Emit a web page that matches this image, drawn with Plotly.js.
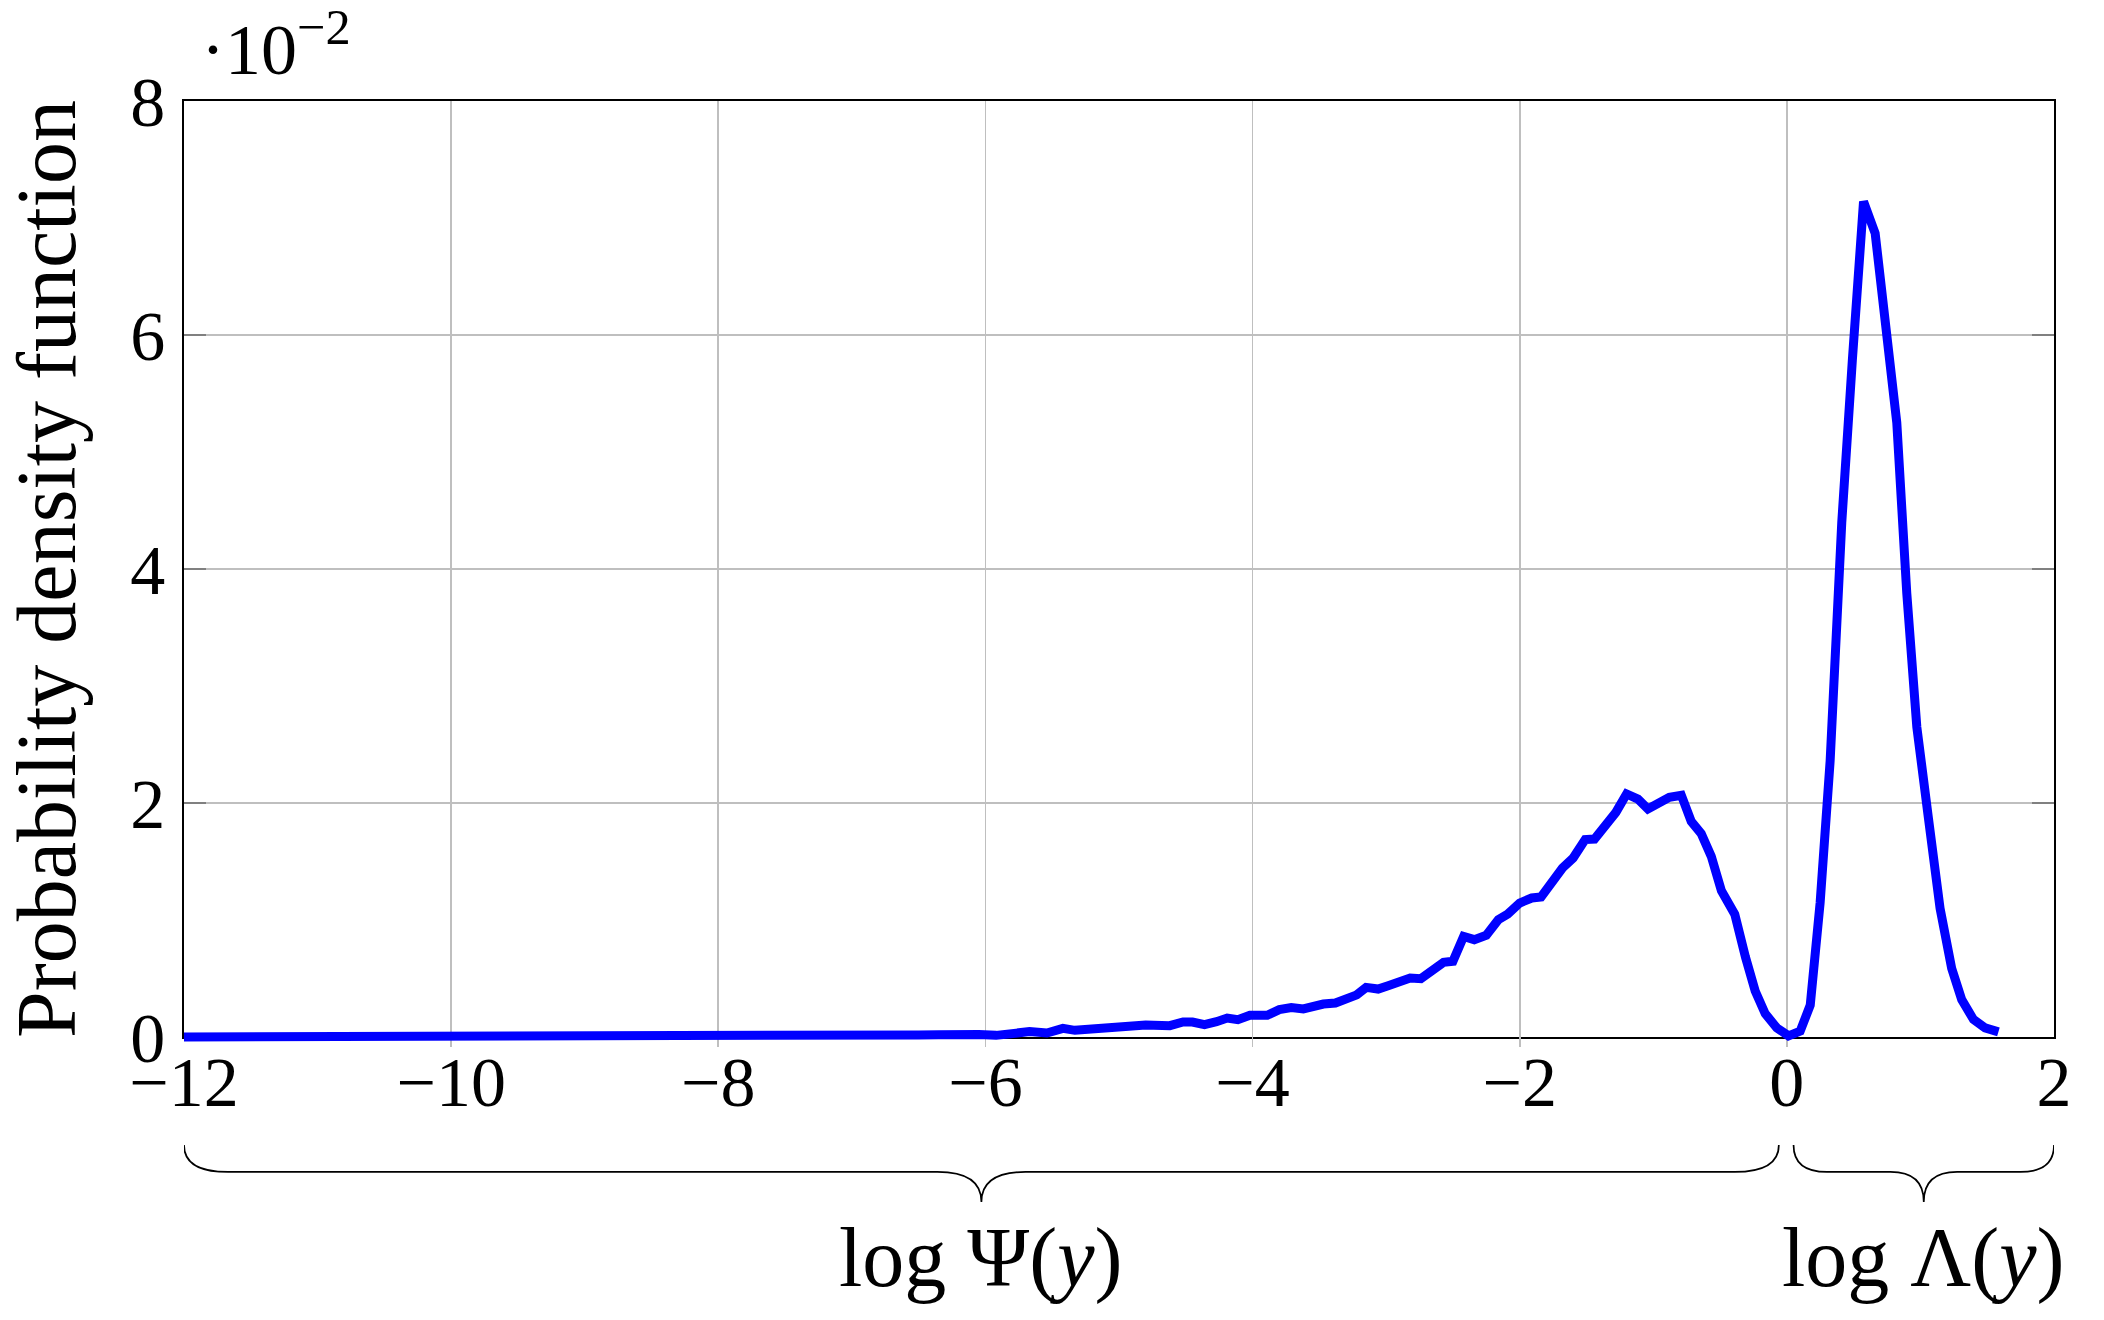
<!DOCTYPE html>
<html>
<head>
<meta charset="utf-8">
<script src="https://cdn.plot.ly/plotly-3.0.1.min.js"></script>
<style>
  html, body { margin: 0; padding: 0; background: #ffffff; }
  #chart { width: 2104px; height: 1320px; }
</style>
</head>
<body>
<div id="chart"></div>
<script>
// log-value on the x axis (log Psi(y) for the negative part, log Lambda(y) for the positive part)
const logValue = [
  -12, -11.5, -11, -10.5, -10, -9.5, -9, -8.5, -8.2, -7.9, -7.6, -7.3, -7.0, -6.8,
  -6.64, -6.5, -6.35, -6.17, -6.05, -5.92, -5.82, -5.67, -5.54, -5.42, -5.33, -5.25,
  -5.10, -5.00, -4.92, -4.80, -4.62, -4.52, -4.45, -4.36, -4.27, -4.19, -4.11, -4.02,
  -3.96, -3.89, -3.80, -3.71, -3.62, -3.55, -3.47, -3.38, -3.31, -3.22, -3.15, -3.06,
  -2.985, -2.90, -2.82, -2.74, -2.66, -2.57, -2.50, -2.42, -2.34, -2.25, -2.16, -2.09,
  -2.00, -1.91, -1.84, -1.76, -1.68, -1.60, -1.51, -1.44, -1.36, -1.28, -1.20, -1.115,
  -1.04, -0.95, -0.88, -0.79, -0.716, -0.641, -0.566, -0.49, -0.39, -0.31, -0.237, -0.162,
  -0.075, 0.012, 0.10, 0.175, 0.249, 0.324, 0.411, 0.49, 0.574, 0.661, 0.736, 0.823,
  0.898, 0.973, 1.06, 1.147, 1.234, 1.309, 1.397, 1.484, 1.584
];

// probability density, in units of 10^-2
const pdf = [
  0, 0, 0, 0, 0, 0.002, 0.002, 0.003, 0.008, 0.006, 0.007, 0.010, 0.012, 0.015,
  0.017, 0.018, 0.020, 0.031, 0.022, 0.014, 0.034, 0.046, 0.034, 0.074, 0.057, 0.063,
  0.066, 0.085, 0.088, 0.103, 0.097, 0.128, 0.128, 0.105, 0.131, 0.162, 0.148, 0.185,
  0.185, 0.185, 0.234, 0.251, 0.240, 0.262, 0.282, 0.291, 0.330, 0.360, 0.424, 0.410,
  0.439, 0.481, 0.504, 0.499, 0.575, 0.638, 0.647, 0.860, 0.832, 0.869, 1.003, 1.051,
  1.145, 1.188, 1.197, 1.330, 1.444, 1.530, 1.687, 1.692, 1.815, 1.920, 2.077, 2.034,
  1.949, 2.006, 2.048, 2.066, 1.843, 1.738, 1.544, 1.250, 1.049, 0.684, 0.393, 0.199,
  0.078, 0.010, 0.050, 0.272, 1.146, 2.359, 4.398, 5.780, 7.140, 6.870, 6.150, 5.250,
  3.790, 2.650, 1.870, 1.100, 0.587, 0.320, 0.150, 0.078, 0.044
];

// the two parts under the braces
const partLabels = ['log Ψ(<i>y</i>)', 'log Λ(<i>y</i>)'];
const partStart = [-12, 0.05];
const partEnd = [-0.06, 2];

const serif = 'Liberation Serif, Times New Roman, serif';

// the framed axes sit 10px above the bottom of the plot area, so the thick
// curve is not cut in half where it runs along the zero line
const padPx = 10;
const areaPx = 1320 - 101 - 273;
const yLow = padPx / areaPx;
const yPad = 8 * padPx / (areaPx - padPx);

// brace below the plot, x in data units, y in paper units
function bracePath(x0, x1, w) {
  const yEnd = -0.1036, yLine = -0.1321, yTip = -0.1638;
  const xm = (x0 + x1) / 2;
  return `M ${x0},${yEnd} Q ${x0},${yLine} ${x0 + w},${yLine} L ${xm - w},${yLine} ` +
         `Q ${xm},${yLine} ${xm},${yTip} Q ${xm},${yLine} ${xm + w},${yLine} ` +
         `L ${x1 - w},${yLine} Q ${x1},${yLine} ${x1},${yEnd}`;
}

// empty trace: keeps the framed x/y subplot (grid, ticks, labels) alive
const traceFrame = {
  x: [], y: [],
  xaxis: 'x', yaxis: 'y',
  type: 'scatter', mode: 'lines',
  hoverinfo: 'skip', showlegend: false
};

const tracePdf = {
  x: logValue,
  y: pdf,
  xaxis: 'x',
  yaxis: 'y2',
  type: 'scatter',
  mode: 'lines',
  line: { color: '#0000ff', width: 9 },
  hoverinfo: 'skip',
  showlegend: false
};

const braceWidth = [0.33, 0.25];
const shapes = partLabels.map((_, i) => ({
  type: 'path',
  xref: 'x', yref: 'paper',
  path: bracePath(partStart[i], partEnd[i], braceWidth[i]),
  line: { color: '#000000', width: 1.7 }
}));

const annotations = partLabels.map((t, i) => ({
  text: t,
  xref: 'x', yref: 'paper',
  x: (partStart[i] + partEnd[i]) / 2, y: -0.223,
  xanchor: 'center', yanchor: 'middle',
  showarrow: false,
  font: { family: serif, size: 84, color: '#000000' }
}));

// pgfplots-style scale factor above the y axis
annotations.push({
  text: '·10<sup>−2</sup>',
  xref: 'paper', yref: 'paper',
  x: 0.008, y: 1.06,
  xanchor: 'left', yanchor: 'middle',
  showarrow: false,
  font: { family: serif, size: 72, color: '#000000' }
});

const axisCommon = {
  showgrid: true,
  gridcolor: '#bfbfbf',
  gridwidth: 1.7,
  zeroline: false,
  showline: true,
  linecolor: '#000000',
  linewidth: 1.7,
  mirror: 'ticks',
  ticks: 'inside',
  ticklen: 22,
  tickwidth: 1.7,
  tickcolor: '#808080',
  layer: 'below traces',
  tickfont: { family: serif, size: 70, color: '#000000' }
};

const layout = {
  width: 2104,
  height: 1320,
  paper_bgcolor: '#ffffff',
  plot_bgcolor: 'rgba(0,0,0,0)',
  margin: { l: 184, r: 50, t: 101, b: 273 },
  xaxis: {
    ...axisCommon,
    anchor: 'y',
    range: [-12, 2],
    tick0: -12,
    dtick: 2,
    ticklabelstandoff: -17
  },
  yaxis: {
    ...axisCommon,
    anchor: 'x',
    domain: [yLow, 1],
    range: [0, 8],
    tick0: 0,
    dtick: 2,
    ticklabelstandoff: 3,
    title: {
      text: 'Probability density function',
      font: { family: serif, size: 84, color: '#000000' },
      standoff: 34
    }
  },
  yaxis2: {
    domain: [0, 1],
    anchor: 'x',
    range: [-yPad, 8],
    visible: false,
    showgrid: false,
    zeroline: false
  },
  shapes: shapes,
  annotations: annotations,
  showlegend: false
};

Plotly.newPlot('chart', [traceFrame, tracePdf], layout, { staticPlot: true, displayModeBar: false });
</script>
</body>
</html>
